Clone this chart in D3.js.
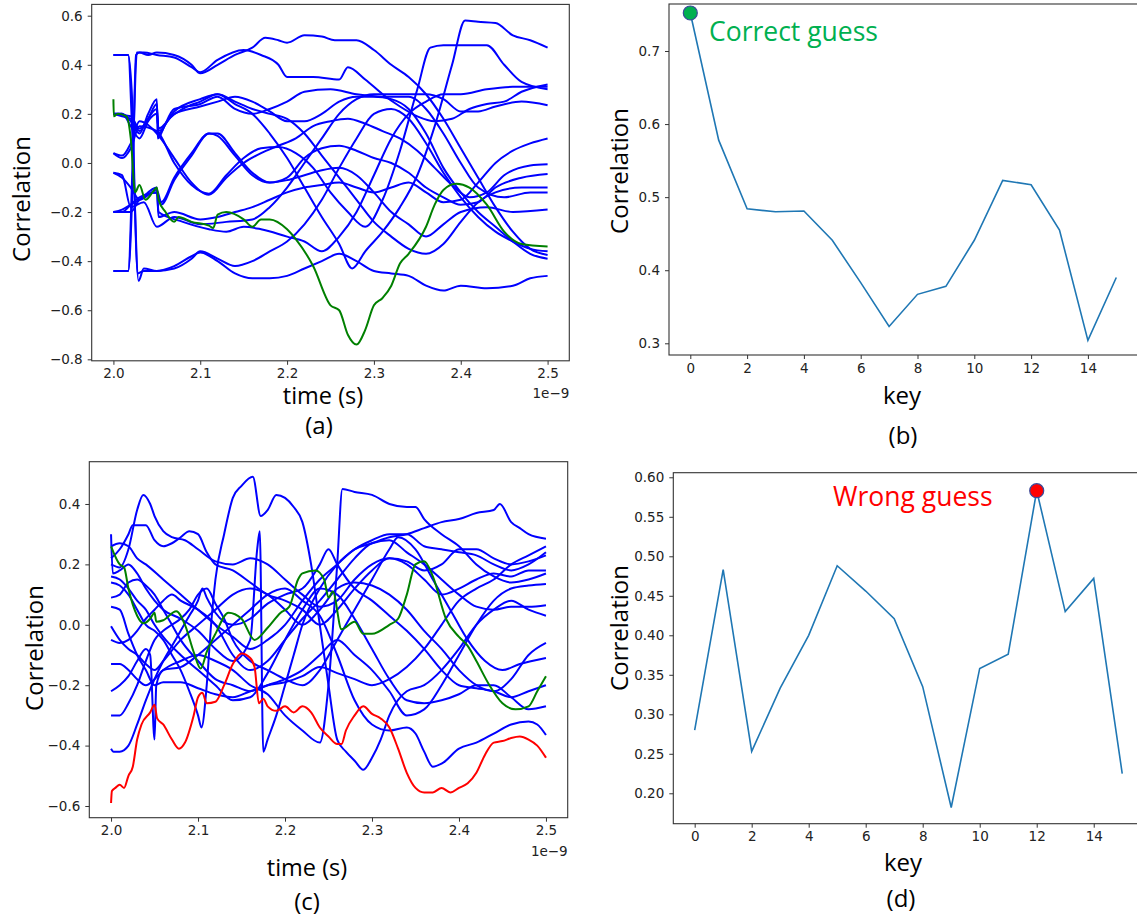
<!DOCTYPE html>
<html>
<head>
<meta charset="utf-8">
<script src="https://cdn.jsdelivr.net/npm/d3@7/dist/d3.min.js"></script>
<style>
  body { margin: 0; background: #fff; }
  svg { display: block; overflow: hidden; }
  .tick text { font-family: "DejaVu Sans", sans-serif; font-size: 13.5px; fill: #222; }
  .tick line { stroke: #333; }
  .lbl { font-family: "Open Sans", sans-serif; font-size: 24px; fill: #000; }
</style>
</head>
<body>
<svg id="fig" width="1137" height="917"></svg>
<script>
// ---- data: time in ns (axis shows 1e-9), correlation values ----
var keys = d3.range(16);
var corrB = [0.752, 0.578, 0.484, 0.480, 0.481, 0.441, 0.383, 0.323, 0.367, 0.378, 0.441, 0.523, 0.517, 0.455, 0.304, 0.390];
var corrD = [0.280, 0.483, 0.253, 0.333, 0.400, 0.488, 0.456, 0.421, 0.335, 0.182, 0.358, 0.376, 0.583, 0.430, 0.472, 0.225];
var bestB = 0, bestD = 12;

var timeTicks = [2.0, 2.1, 2.2, 2.3, 2.4, 2.5];
var yTicksA = [-0.8, -0.6, -0.4, -0.2, 0.0, 0.2, 0.4, 0.6];
var yTicksB = [0.3, 0.4, 0.5, 0.6, 0.7];
var yTicksC = [-0.6, -0.4, -0.2, 0.0, 0.2, 0.4];
var yTicksD = [0.20, 0.25, 0.30, 0.35, 0.40, 0.45, 0.50, 0.55, 0.60];
var keyTicks = [0, 2, 4, 6, 8, 10, 12, 14];

// panel (a): correct key in green, others blue
var greenA = [[2.0,0.26],[2.0005,0.19],[2.005,0.2],[2.015,0.19],[2.02,0.1],[2.025,-0.12],[2.03,-0.09],[2.037,-0.15],[2.045,-0.12],[2.05,-0.1],[2.052,-0.15],[2.06,-0.2],[2.07,-0.24],[2.075,-0.22],[2.09,-0.24],[2.11,-0.255],[2.115,-0.265],[2.12,-0.21],[2.13,-0.2],[2.15,-0.23],[2.16,-0.26],[2.17,-0.23],[2.18,-0.23],[2.2,-0.27],[2.21,-0.31],[2.23,-0.42],[2.25,-0.58],[2.26,-0.6],[2.27,-0.7],[2.28,-0.74],[2.29,-0.68],[2.3,-0.58],[2.31,-0.55],[2.32,-0.5],[2.33,-0.41],[2.34,-0.37],[2.36,-0.26],[2.37,-0.17],[2.38,-0.11],[2.395,-0.085],[2.41,-0.1],[2.43,-0.17],[2.45,-0.28],[2.47,-0.33],[2.5,-0.34]];
var a01 = [[2.0,-0.44],[2.017,-0.44],[2.022,-0.1],[2.026,0.44],[2.03,0.45],[2.04,0.44],[2.05,0.45],[2.07,0.44],[2.09,0.4],[2.1,0.365],[2.12,0.4],[2.14,0.44],[2.16,0.47],[2.175,0.51],[2.19,0.5],[2.2,0.49],[2.22,0.52],[2.24,0.515],[2.255,0.5],[2.28,0.5],[2.3,0.46],[2.32,0.4],[2.34,0.35],[2.36,0.28],[2.38,0.18],[2.4,0.06],[2.42,-0.06],[2.44,-0.18],[2.46,-0.28],[2.48,-0.35],[2.5,-0.375]];
var a02 = [[2.0,-0.44],[2.017,-0.44],[2.023,0.1],[2.027,0.45],[2.035,0.45],[2.05,0.44],[2.07,0.43],[2.09,0.39],[2.1,0.37],[2.12,0.42],[2.15,0.46],[2.17,0.44],[2.19,0.4],[2.2,0.35],[2.23,0.35],[2.26,0.34],[2.27,0.39],[2.29,0.34],[2.31,0.28],[2.33,0.23],[2.35,0.19],[2.37,0.17],[2.39,0.18],[2.41,0.22],[2.43,0.24],[2.45,0.25],[2.47,0.29],[2.5,0.32]];
var a03 = [[2.0,0.2],[2.01,0.2],[2.02,0.17],[2.03,0.12],[2.04,0.2],[2.05,0.26],[2.051,0.1],[2.06,0.16],[2.08,0.22],[2.1,0.25],[2.12,0.28],[2.14,0.24],[2.16,0.2],[2.18,0.12],[2.2,0.02],[2.22,-0.1],[2.24,-0.22],[2.26,-0.33],[2.275,-0.43],[2.29,-0.36],[2.31,-0.28],[2.33,-0.18],[2.35,-0.05],[2.37,0.15],[2.39,0.4],[2.405,0.58],[2.42,0.575],[2.44,0.57],[2.46,0.52],[2.48,0.5],[2.5,0.47]];
var a04 = [[2.0,0.04],[2.01,0.02],[2.02,0.06],[2.03,0.15],[2.05,0.13],[2.07,0.0],[2.09,-0.09],[2.11,-0.125],[2.13,-0.05],[2.15,0.02],[2.17,0.06],[2.19,0.065],[2.21,0.04],[2.23,-0.02],[2.25,-0.12],[2.27,-0.2],[2.29,-0.26],[2.31,-0.15],[2.33,0.05],[2.35,0.3],[2.365,0.47],[2.38,0.48],[2.4,0.48],[2.43,0.48],[2.45,0.4],[2.47,0.33],[2.5,0.3]];
var a05 = [[2.0,0.2],[2.01,0.19],[2.02,0.18],[2.03,0.13],[2.04,0.18],[2.05,0.24],[2.052,0.12],[2.07,0.22],[2.1,0.24],[2.12,0.27],[2.14,0.22],[2.16,0.2],[2.18,0.22],[2.2,0.25],[2.22,0.29],[2.25,0.3],[2.28,0.28],[2.31,0.27],[2.34,0.27],[2.36,0.22],[2.38,0.12],[2.4,0.0],[2.42,-0.1],[2.45,-0.14],[2.48,-0.12],[2.5,-0.12]];
var a06 = [[2.0,0.2],[2.01,0.2],[2.02,0.15],[2.03,0.1],[2.04,0.17],[2.05,0.2],[2.052,0.14],[2.07,0.2],[2.1,0.23],[2.12,0.25],[2.14,0.27],[2.16,0.25],[2.18,0.21],[2.2,0.17],[2.22,0.17],[2.24,0.2],[2.26,0.25],[2.28,0.27],[2.3,0.27],[2.32,0.26],[2.34,0.22],[2.36,0.12],[2.38,-0.02],[2.4,-0.12],[2.42,-0.2],[2.44,-0.26],[2.46,-0.32],[2.48,-0.37],[2.5,-0.39]];
var a07 = [[2.0,0.2],[2.02,0.19],[2.03,0.14],[2.05,0.22],[2.052,0.13],[2.07,0.21],[2.1,0.26],[2.12,0.28],[2.14,0.25],[2.16,0.22],[2.18,0.2],[2.2,0.18],[2.22,0.12],[2.24,0.03],[2.26,-0.06],[2.28,-0.15],[2.3,-0.24],[2.32,-0.3],[2.34,-0.35],[2.36,-0.37],[2.38,-0.33],[2.4,-0.24],[2.42,-0.16],[2.44,-0.12],[2.47,-0.1],[2.5,-0.1]];
var a08 = [[2.0,-0.04],[2.01,-0.06],[2.02,-0.1],[2.03,-0.15],[2.05,-0.11],[2.055,-0.16],[2.07,-0.06],[2.09,0.04],[2.11,0.12],[2.12,0.11],[2.14,0.03],[2.16,-0.05],[2.18,-0.08],[2.2,-0.07],[2.22,-0.05],[2.24,-0.03],[2.26,-0.02],[2.28,-0.05],[2.3,-0.12],[2.32,-0.2],[2.34,-0.25],[2.36,-0.3],[2.38,-0.25],[2.4,-0.2],[2.43,-0.18],[2.46,-0.2],[2.5,-0.19]];
var a09 = [[2.0,-0.2],[2.01,-0.2],[2.02,-0.17],[2.03,-0.14],[2.05,-0.12],[2.055,-0.17],[2.07,-0.07],[2.09,0.03],[2.11,0.12],[2.12,0.12],[2.14,0.04],[2.16,-0.04],[2.18,-0.08],[2.2,-0.06],[2.22,0.02],[2.24,0.06],[2.26,0.07],[2.28,0.05],[2.3,0.02],[2.32,0.0],[2.34,-0.04],[2.36,-0.1],[2.38,-0.14],[2.4,-0.17],[2.42,-0.16],[2.44,-0.1],[2.47,-0.06],[2.5,-0.045]];
var a10 = [[2.0,0.04],[2.01,0.03],[2.02,0.08],[2.03,0.17],[2.05,0.12],[2.07,0.02],[2.09,-0.08],[2.11,-0.13],[2.13,-0.06],[2.15,0.0],[2.17,0.04],[2.19,0.07],[2.21,0.1],[2.23,0.15],[2.25,0.17],[2.27,0.18],[2.29,0.16],[2.31,0.13],[2.33,0.1],[2.35,0.05],[2.37,-0.02],[2.39,-0.09],[2.41,-0.14],[2.43,-0.12],[2.45,-0.05],[2.48,-0.01],[2.5,-0.005]];
var a11 = [[2.0,-0.2],[2.01,-0.19],[2.02,-0.17],[2.03,-0.15],[2.05,-0.1],[2.052,-0.22],[2.07,-0.2],[2.1,-0.23],[2.12,-0.22],[2.14,-0.2],[2.16,-0.18],[2.18,-0.15],[2.2,-0.12],[2.22,-0.1],[2.24,-0.09],[2.26,-0.08],[2.28,-0.1],[2.3,-0.12],[2.32,-0.1],[2.34,-0.08],[2.36,-0.12],[2.38,-0.16],[2.4,-0.15],[2.42,-0.08],[2.44,0.0],[2.46,0.05],[2.48,0.08],[2.5,0.1]];
var a12 = [[2.0,-0.04],[2.01,-0.05],[2.02,-0.18],[2.035,-0.16],[2.05,-0.26],[2.07,-0.22],[2.1,-0.25],[2.13,-0.24],[2.16,-0.23],[2.18,-0.18],[2.2,-0.1],[2.22,0.0],[2.24,0.1],[2.26,0.2],[2.28,0.26],[2.3,0.28],[2.33,0.28],[2.36,0.28],[2.38,0.26],[2.4,0.21],[2.42,0.21],[2.44,0.23],[2.47,0.25],[2.5,0.235]];
var a13 = [[2.0,-0.2],[2.01,-0.2],[2.02,-0.2],[2.03,-0.15],[2.05,-0.12],[2.052,-0.2],[2.08,-0.24],[2.11,-0.27],[2.13,-0.28],[2.15,-0.26],[2.17,-0.27],[2.2,-0.3],[2.22,-0.32],[2.24,-0.36],[2.26,-0.3],[2.28,-0.2],[2.3,-0.05],[2.32,0.1],[2.34,0.2],[2.36,0.25],[2.38,0.28],[2.4,0.28],[2.43,0.3],[2.46,0.31],[2.5,0.31]];
var a14 = [[2.0,0.44],[2.017,0.44],[2.022,0.1],[2.029,-0.48],[2.035,-0.43],[2.05,-0.44],[2.07,-0.43],[2.09,-0.39],[2.1,-0.36],[2.12,-0.39],[2.14,-0.42],[2.16,-0.4],[2.18,-0.36],[2.2,-0.32],[2.22,-0.25],[2.24,-0.15],[2.26,-0.02],[2.28,0.1],[2.3,0.2],[2.32,0.22],[2.34,0.18],[2.36,0.08],[2.38,-0.04],[2.4,-0.14],[2.42,-0.22],[2.44,-0.28],[2.46,-0.32],[2.48,-0.35],[2.5,-0.36]];
var a15 = [[2.0,0.44],[2.017,0.44],[2.021,0.3],[2.028,-0.45],[2.035,-0.44],[2.05,-0.44],[2.07,-0.42],[2.09,-0.38],[2.1,-0.365],[2.12,-0.4],[2.14,-0.45],[2.16,-0.47],[2.18,-0.47],[2.2,-0.46],[2.22,-0.43],[2.24,-0.4],[2.26,-0.37],[2.28,-0.4],[2.3,-0.44],[2.32,-0.45],[2.34,-0.46],[2.36,-0.5],[2.38,-0.52],[2.4,-0.5],[2.43,-0.51],[2.46,-0.5],[2.48,-0.47],[2.5,-0.46]];
var blueA = [a01, a02, a03, a04, a05, a06, a07, a08, a09, a10, a11, a12, a13, a14, a15];

// panel (c): correct key green, wrong guess red, others blue
var greenC = [[2.0,0.26],[2.01,0.2],[2.015,0.19],[2.02,0.12],[2.03,0.03],[2.037,0.005],[2.045,0.02],[2.05,0.04],[2.052,0.01],[2.06,0.015],[2.075,0.045],[2.085,0.0],[2.095,-0.09],[2.103,-0.145],[2.11,-0.09],[2.12,-0.03],[2.135,0.04],[2.15,0.02],[2.165,-0.05],[2.18,-0.01],[2.195,0.04],[2.205,0.06],[2.215,0.15],[2.22,0.17],[2.235,0.18],[2.245,0.15],[2.25,0.09],[2.255,0.11],[2.265,-0.015],[2.28,0.01],[2.29,-0.03],[2.3,-0.03],[2.32,0.0],[2.33,0.02],[2.34,0.1],[2.35,0.2],[2.36,0.21],[2.37,0.16],[2.385,0.02],[2.4,-0.04],[2.41,-0.07],[2.42,-0.12],[2.435,-0.2],[2.45,-0.26],[2.465,-0.28],[2.48,-0.27],[2.49,-0.22],[2.5,-0.17]];
var redC = [[2.0,-0.59],[2.001,-0.55],[2.005,-0.54],[2.01,-0.53],[2.015,-0.54],[2.02,-0.5],[2.025,-0.47],[2.03,-0.38],[2.035,-0.33],[2.045,-0.29],[2.05,-0.265],[2.053,-0.31],[2.06,-0.33],[2.07,-0.38],[2.078,-0.41],[2.085,-0.39],[2.095,-0.3],[2.1,-0.24],[2.105,-0.225],[2.11,-0.26],[2.12,-0.255],[2.13,-0.2],[2.14,-0.13],[2.15,-0.095],[2.16,-0.11],[2.165,-0.14],[2.17,-0.26],[2.175,-0.245],[2.18,-0.27],[2.19,-0.285],[2.2,-0.27],[2.21,-0.29],[2.22,-0.27],[2.23,-0.29],[2.24,-0.34],[2.25,-0.37],[2.26,-0.395],[2.265,-0.395],[2.27,-0.35],[2.28,-0.3],[2.29,-0.27],[2.3,-0.295],[2.31,-0.31],[2.32,-0.34],[2.33,-0.41],[2.34,-0.49],[2.35,-0.54],[2.36,-0.555],[2.37,-0.555],[2.38,-0.54],[2.39,-0.555],[2.4,-0.54],[2.41,-0.525],[2.42,-0.49],[2.43,-0.43],[2.44,-0.39],[2.45,-0.385],[2.46,-0.375],[2.47,-0.37],[2.48,-0.38],[2.49,-0.4],[2.5,-0.44]];
var c01 = [[2.0,0.2],[2.01,0.19],[2.02,0.25],[2.03,0.38],[2.037,0.43],[2.045,0.4],[2.05,0.36],[2.06,0.31],[2.07,0.29],[2.085,0.28],[2.1,0.25],[2.12,0.21],[2.14,0.2],[2.16,0.22],[2.18,0.2],[2.2,0.15],[2.22,0.1],[2.24,0.06],[2.26,0.08],[2.28,0.15],[2.3,0.2],[2.32,0.22],[2.34,0.2],[2.36,0.15],[2.38,0.1],[2.4,0.12],[2.42,0.15],[2.44,0.17],[2.46,0.16],[2.48,0.18],[2.5,0.18]];
var c02 = [[2.0,0.22],[2.01,0.25],[2.02,0.3],[2.025,0.33],[2.04,0.33],[2.05,0.28],[2.06,0.26],[2.07,0.27],[2.08,0.29],[2.09,0.31],[2.1,0.3],[2.11,0.24],[2.12,0.2],[2.14,0.18],[2.16,0.14],[2.18,0.1],[2.2,0.08],[2.22,0.05],[2.24,0.0],[2.26,0.05],[2.28,0.12],[2.3,0.18],[2.32,0.22],[2.34,0.21],[2.36,0.18],[2.38,0.2],[2.4,0.25],[2.42,0.25],[2.44,0.22],[2.46,0.2],[2.48,0.21],[2.5,0.23]];
var c03 = [[2.0,0.14],[2.01,0.13],[2.02,0.1],[2.03,0.05],[2.04,0.0],[2.05,-0.02],[2.06,-0.05],[2.07,-0.1],[2.08,-0.15],[2.09,-0.22],[2.1,-0.3],[2.104,-0.34],[2.11,-0.2],[2.115,0.0],[2.12,0.15],[2.13,0.3],[2.14,0.42],[2.15,0.46],[2.163,0.49],[2.172,0.36],[2.18,0.38],[2.19,0.43],[2.2,0.42],[2.21,0.39],[2.22,0.34],[2.23,0.2],[2.24,0.0],[2.25,-0.2],[2.26,-0.38],[2.27,-0.42],[2.28,-0.45],[2.29,-0.48],[2.3,-0.44],[2.31,-0.38],[2.32,-0.3],[2.34,-0.22],[2.36,-0.2],[2.38,-0.15],[2.4,-0.08],[2.42,0.0],[2.44,0.05],[2.46,0.08],[2.48,0.05],[2.5,0.03]];
var c04 = [[2.0,-0.13],[2.01,-0.13],[2.02,-0.15],[2.03,-0.18],[2.04,-0.2],[2.05,-0.18],[2.06,-0.15],[2.08,-0.12],[2.1,-0.1],[2.12,-0.12],[2.14,-0.15],[2.16,-0.2],[2.18,-0.23],[2.2,-0.3],[2.22,-0.35],[2.24,-0.39],[2.25,-0.2],[2.26,0.2],[2.266,0.45],[2.28,0.44],[2.3,0.43],[2.32,0.4],[2.34,0.39],[2.35,0.39],[2.36,0.35],[2.38,0.3],[2.4,0.26],[2.42,0.2],[2.44,0.16],[2.46,0.14],[2.48,0.15],[2.5,0.17]];
var c05 = [[2.0,0.26],[2.01,0.27],[2.02,0.26],[2.03,0.22],[2.04,0.2],[2.06,0.15],[2.08,0.1],[2.1,0.05],[2.12,0.0],[2.14,-0.04],[2.16,-0.08],[2.18,-0.05],[2.2,0.0],[2.22,0.08],[2.24,0.15],[2.26,0.2],[2.28,0.25],[2.3,0.27],[2.32,0.29],[2.34,0.3],[2.36,0.32],[2.38,0.34],[2.4,0.35],[2.42,0.37],[2.44,0.38],[2.447,0.4],[2.46,0.34],[2.47,0.32],[2.48,0.3],[2.5,0.285]];
var c06 = [[2.0,-0.41],[2.003,-0.42],[2.01,-0.42],[2.02,-0.4],[2.03,-0.33],[2.04,-0.25],[2.05,-0.18],[2.06,-0.12],[2.07,-0.07],[2.08,-0.02],[2.09,0.03],[2.1,0.08],[2.105,0.12],[2.11,0.09],[2.12,0.04],[2.14,0.0],[2.16,0.02],[2.18,0.07],[2.2,0.1],[2.22,0.12],[2.24,0.2],[2.25,0.25],[2.26,0.2],[2.28,0.12],[2.3,0.08],[2.32,0.03],[2.34,-0.02],[2.36,-0.08],[2.38,-0.15],[2.4,-0.2],[2.42,-0.21],[2.44,-0.22],[2.46,-0.24],[2.48,-0.22],[2.5,-0.2]];
var c07 = [[2.0,-0.3],[2.01,-0.3],[2.02,-0.26],[2.03,-0.2],[2.04,-0.12],[2.05,-0.05],[2.06,-0.02],[2.07,0.0],[2.08,0.02],[2.09,0.05],[2.1,0.1],[2.11,0.12],[2.12,0.07],[2.13,0.02],[2.14,-0.05],[2.16,-0.12],[2.18,-0.15],[2.2,-0.18],[2.22,-0.2],[2.24,-0.15],[2.26,-0.05],[2.28,0.05],[2.3,0.15],[2.32,0.25],[2.33,0.29],[2.35,0.25],[2.37,0.15],[2.39,0.05],[2.41,-0.05],[2.43,-0.12],[2.45,-0.15],[2.47,-0.13],[2.5,-0.11]];
var c08 = [[2.0,-0.22],[2.01,-0.2],[2.02,-0.17],[2.03,-0.12],[2.04,-0.08],[2.045,-0.1],[2.05,-0.38],[2.052,-0.2],[2.06,-0.15],[2.08,-0.14],[2.1,-0.1],[2.12,-0.05],[2.14,0.0],[2.16,0.05],[2.18,0.1],[2.2,0.12],[2.22,0.08],[2.24,0.03],[2.26,-0.1],[2.28,-0.25],[2.3,-0.33],[2.32,-0.35],[2.34,-0.34],[2.35,-0.36],[2.36,-0.42],[2.37,-0.47],[2.38,-0.46],[2.4,-0.41],[2.42,-0.39],[2.44,-0.36],[2.46,-0.33],[2.48,-0.32],[2.49,-0.33],[2.5,-0.365]];
var c09 = [[2.0,0.3],[2.002,0.17],[2.01,0.18],[2.02,0.2],[2.03,0.17],[2.04,0.12],[2.05,0.08],[2.06,0.05],[2.08,0.02],[2.1,-0.02],[2.12,-0.08],[2.14,-0.12],[2.16,-0.05],[2.168,0.25],[2.171,0.31],[2.175,-0.42],[2.18,-0.38],[2.19,-0.3],[2.2,-0.2],[2.21,-0.1],[2.22,0.0],[2.24,0.12],[2.26,0.2],[2.28,0.25],[2.3,0.28],[2.32,0.3],[2.34,0.3],[2.36,0.26],[2.38,0.25],[2.4,0.24],[2.42,0.23],[2.44,0.2],[2.46,0.18],[2.48,0.2],[2.5,0.24]];
var c10 = [[2.0,0.16],[2.01,0.15],[2.02,0.12],[2.03,0.08],[2.04,0.05],[2.05,0.0],[2.06,-0.04],[2.08,-0.1],[2.1,-0.15],[2.12,-0.2],[2.14,-0.25],[2.16,-0.24],[2.18,-0.16],[2.2,-0.05],[2.22,0.05],[2.24,0.12],[2.26,0.1],[2.28,0.02],[2.3,-0.08],[2.32,-0.18],[2.34,-0.25],[2.36,-0.26],[2.38,-0.25],[2.4,-0.23],[2.42,-0.2],[2.44,-0.2],[2.46,-0.24],[2.48,-0.28],[2.5,-0.27]];
var c11 = [[2.0,0.06],[2.01,0.05],[2.02,-0.03],[2.03,-0.1],[2.04,-0.15],[2.05,-0.2],[2.06,-0.19],[2.08,-0.19],[2.1,-0.21],[2.12,-0.23],[2.14,-0.24],[2.16,-0.22],[2.18,-0.2],[2.2,-0.19],[2.22,-0.17],[2.24,-0.14],[2.26,-0.16],[2.28,-0.18],[2.3,-0.2],[2.32,-0.18],[2.34,-0.14],[2.36,-0.08],[2.38,0.0],[2.4,0.08],[2.42,0.12],[2.44,0.15],[2.46,0.2],[2.48,0.23],[2.5,0.26]];
var c12 = [[2.0,-0.005],[2.01,-0.05],[2.02,-0.08],[2.03,-0.1],[2.04,-0.13],[2.05,-0.15],[2.06,-0.12],[2.08,-0.05],[2.1,0.0],[2.12,0.05],[2.14,0.1],[2.16,0.12],[2.18,0.1],[2.2,0.05],[2.22,0.0],[2.24,0.05],[2.26,0.12],[2.28,0.14],[2.3,0.13],[2.32,0.1],[2.34,0.05],[2.36,-0.02],[2.38,-0.08],[2.4,-0.15],[2.42,-0.2],[2.44,-0.22],[2.46,-0.18],[2.48,-0.1],[2.5,-0.06]];
var c13 = [[2.0,-0.05],[2.01,-0.06],[2.02,-0.05],[2.03,-0.02],[2.04,0.02],[2.05,0.05],[2.06,0.08],[2.07,0.1],[2.08,0.08],[2.1,0.05],[2.12,0.0],[2.14,-0.1],[2.16,-0.15],[2.18,-0.12],[2.2,-0.05],[2.22,0.02],[2.24,0.08],[2.26,0.15],[2.28,0.22],[2.3,0.27],[2.32,0.28],[2.34,0.24],[2.36,0.2],[2.38,0.15],[2.4,0.1],[2.42,0.06],[2.44,0.05],[2.46,0.06],[2.48,0.06],[2.5,0.065]];
var c14 = [[2.0,0.09],[2.01,0.1],[2.02,0.14],[2.03,0.15],[2.04,0.13],[2.05,0.1],[2.06,0.05],[2.07,0.0],[2.08,-0.05],[2.1,-0.12],[2.12,-0.18],[2.14,-0.2],[2.16,-0.22],[2.18,-0.2],[2.2,-0.18],[2.22,-0.15],[2.24,-0.1],[2.26,-0.05],[2.28,-0.1],[2.3,-0.15],[2.32,-0.22],[2.34,-0.3],[2.36,-0.28],[2.38,-0.2],[2.4,-0.1],[2.42,0.0],[2.44,0.08],[2.46,0.12],[2.48,0.13],[2.5,0.135]];
var blueC = [c01, c02, c03, c04, c05, c06, c07, c08, c09, c10, c11, c12, c13, c14];

var svg = d3.select("#fig");
var fmt1 = d3.format(".1f"), fmt2 = d3.format(".2f"), fmt0 = d3.format("d");

// draws a frame + axes, returns scales
function makeAxes(box, xDom, yDom, xTicks, yTicks, xFmt, yFmt) {
    var x = d3.scaleLinear().domain(xDom).range([box.l, box.r]);
    var y = d3.scaleLinear().domain(yDom).range([box.b, box.t]);
    var g = svg.append("g");

    g.append("g")
        .attr("transform", "translate(0," + box.b + ")")
        .call(d3.axisBottom(x).tickValues(xTicks).tickFormat(xFmt).tickSize(4).tickPadding(4))
        .call(function (s) { s.select(".domain").remove(); });

    g.append("g")
        .attr("transform", "translate(" + box.l + ",0)")
        .call(d3.axisLeft(y).tickValues(yTicks).tickFormat(yFmt).tickSize(4).tickPadding(5))
        .call(function (s) { s.select(".domain").remove(); });

    g.append("rect")
        .attr("x", box.l).attr("y", box.t)
        .attr("width", box.r - box.l).attr("height", box.b - box.t)
        .attr("fill", "none").attr("stroke", "#333").attr("stroke-width", 1.1);

    return { x: x, y: y, g: g };
}

function label(txt, x, y, rot, size) {
    var t = svg.append("text").attr("class", "lbl").attr("text-anchor", "middle").text(txt);
    if (size) t.style("font-size", size + "px");
    if (rot) t.attr("transform", "translate(" + x + "," + y + ") rotate(-90)");
    else t.attr("x", x).attr("y", y);
    return t;
}

function drawTraces(ax, series, color, width) {
    var line = d3.line()
        .curve(d3.curveMonotoneX)
        .x(function (d) { return ax.x(d[0]); })
        .y(function (d) { return ax.y(d[1]); });
    ax.g.selectAll(null).data(series).enter().append("path")
        .attr("d", line)
        .attr("fill", "none")
        .attr("stroke", color)
        .attr("stroke-width", width)
        .attr("stroke-linejoin", "round");
}

function offsetText(box, y) {
    svg.append("text").attr("x", box.r).attr("y", y)
        .attr("text-anchor", "end")
        .style("font-family", "DejaVu Sans").style("font-size", "13.5px").attr("fill", "#222")
        .text("1e\u22129");
}

// ---------- (a) ----------
var boxA = { l: 91.7, r: 569.3, t: 4.4, b: 360.8 };
var axA = makeAxes(boxA, [1.975, 2.525], [-0.806, 0.646], timeTicks, yTicksA, fmt1, fmt1);
drawTraces(axA, blueA, "#0000ff", 2);
drawTraces(axA, [greenA], "#008000", 2);
offsetText(boxA, 398);
label("Correlation", 30, 199, true);
label("time (s)", 323, 404, false, 23.5);
label("(a)", 319, 434);

// ---------- (b) ----------
var boxB = { l: 669, r: 1137.6, t: 4, b: 355 };
var axB = makeAxes(boxB, [-0.75, 15.75], [0.284, 0.7643], keyTicks, yTicksB, fmt0, fmt1);
axB.g.append("path")
    .datum(keys)
    .attr("d", d3.line().x(function (k) { return axB.x(k); }).y(function (k) { return axB.y(corrB[k]); }))
    .attr("fill", "none").attr("stroke", "#1f77b4").attr("stroke-width", 1.6);
axB.g.append("circle")
    .attr("cx", axB.x(keys[bestB])).attr("cy", axB.y(corrB[bestB])).attr("r", 7)
    .attr("fill", "#00b050").attr("stroke", "#3a4a9a").attr("stroke-width", 1.2);
svg.append("text").attr("x", 709).attr("y", 41)
    .style("font-family", "Open Sans").style("font-size", "26.5px").attr("fill", "#00b050")
    .text("Correct guess");
label("Correlation", 628, 171, true);
label("key", 902, 404);
label("(b)", 903, 444);

// ---------- (c) ----------
var boxC = { l: 89.3, r: 567.7, t: 461.7, b: 817.7 };
var axC = makeAxes(boxC, [1.975, 2.525], [-0.6387, 0.540], timeTicks, yTicksC, fmt1, fmt1);
drawTraces(axC, blueC, "#0000ff", 2);
drawTraces(axC, [greenC], "#008000", 2);
drawTraces(axC, [redC], "#ff0000", 2);
offsetText(boxC, 856);
label("Correlation", 43, 648, true);
label("time (s)", 307, 876, false, 23.5);
label("(c)", 307, 910);

// ---------- (d) ----------
var boxD = { l: 673.3, r: 1143.6, t: 472.7, b: 823.7 };
var axD = makeAxes(boxD, [-0.75, 15.75], [0.1615, 0.6058], keyTicks, yTicksD, fmt0, fmt2);
axD.g.append("path")
    .datum(keys)
    .attr("d", d3.line().x(function (k) { return axD.x(k); }).y(function (k) { return axD.y(corrD[k]); }))
    .attr("fill", "none").attr("stroke", "#1f77b4").attr("stroke-width", 1.6);
axD.g.append("circle")
    .attr("cx", axD.x(keys[bestD])).attr("cy", axD.y(corrD[bestD])).attr("r", 7)
    .attr("fill", "#ff0000").attr("stroke", "#3a4a9a").attr("stroke-width", 1.2);
svg.append("text").attr("x", 833).attr("y", 506)
    .style("font-family", "Open Sans").style("font-size", "26.5px").attr("fill", "#ff0000")
    .text("Wrong guess");
label("Correlation", 628, 628, true);
label("key", 903, 871);
label("(d)", 901, 907);
</script>
</body>
</html>
